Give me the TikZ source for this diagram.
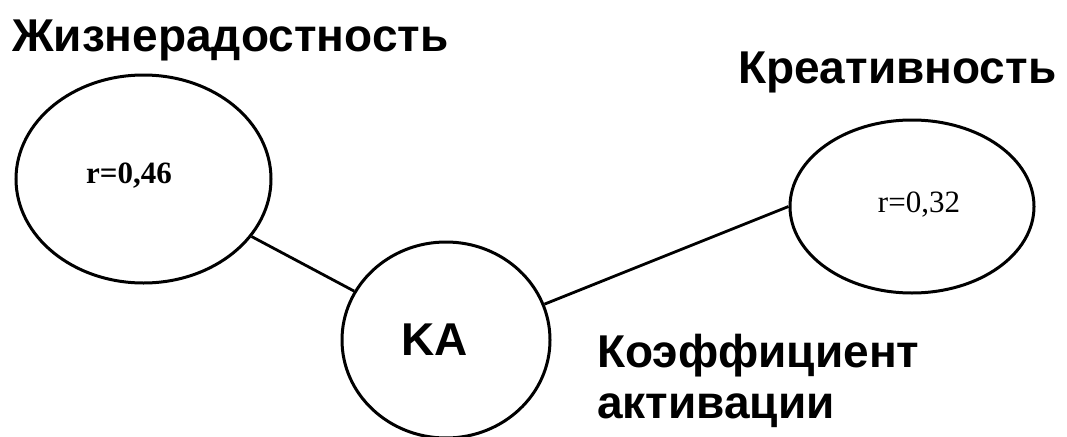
\documentclass[tikz,border=0pt]{standalone}
\usepackage{fontspec}
\setmainfont{Liberation Sans}
\newfontfamily\serifr{Liberation Serif}
\usetikzlibrary{shapes.geometric}
\begin{document}
\begin{tikzpicture}[x=1pt,y=-1pt,
  bubble/.style={draw,line width=3pt,ellipse,inner sep=0pt},
  big/.style={font=\fontsize{46}{51}\selectfont\bfseries,inner sep=0pt,anchor=base west},
  rval/.style={font=\fontsize{31}{34}\selectfont\serifr,inner sep=0pt},
  link/.style={line width=2.8pt}]
\useasboundingbox (0,0) rectangle (1067,436);
\node[bubble,minimum width=255pt,minimum height=208pt] (joy) at (143.5,179) {};
\node[bubble,minimum width=244pt,minimum height=173pt] (cre) at (912,206.5) {};
\node[bubble,minimum width=208pt,minimum height=196pt] (ka) at (446,340) {};
\draw[link] (joy) -- (ka);
\draw[link] (ka.20) -- (cre.west);
\node[rval,font=\fontsize{31}{34}\selectfont\serifr\bfseries] (r1) at (129,176) {r=0,46};
\node[rval] (r2) at (919,204.5) {r=0,32};
\node[font=\fontsize{46}{51}\selectfont\bfseries,inner sep=0pt] (kat) at (435,340) {KA};
\node[big] (tjoy) at (12,52) {Жизнерадостность};
\node[big] (tcre) at (738,83) {Креативность};
\node[big] (tk1) at (597,367) {Коэффициент};
\node[big] (tk2) at (597,418) {активации};
\end{tikzpicture}
\end{document}
